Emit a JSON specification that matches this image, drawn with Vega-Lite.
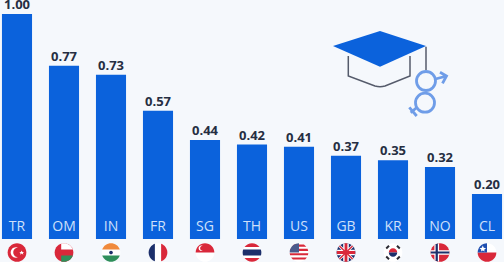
{"$schema":"https://vega.github.io/schema/vega-lite/v6.json","width":504,"height":262,"padding":0,"autosize":{"type":"none"},"background":"#f5f8fc","config":{"view":{"stroke":null}},
"resolve":{"scale":{"color":"independent","shape":"independent"}},
"layer":[
{"data":{"name":"bars","values":[{"code":"TR","value":1.00},{"code":"OM","value":0.77},{"code":"IN","value":0.73},{"code":"FR","value":0.57},{"code":"SG","value":0.44},{"code":"TH","value":0.42},{"code":"US","value":0.41},{"code":"GB","value":0.37},{"code":"KR","value":0.35},{"code":"NO","value":0.32},{"code":"CL","value":0.20}]},
"mark":{"type":"bar","color":"#0b62dc"},
"encoding":{"x":{"field":"code","type":"nominal","axis":null,"scale":{"domain":["TR","OM","IN","FR","SG","TH","US","GB","KR","NO","CL"],"range":[-6.5,510.5],"paddingInner":0.36,"paddingOuter":0.18}},"y":{"field":"value","type":"quantitative","axis":null,"scale":{"domain":[0,1],"range":[239,14],"nice":false,"zero":false}}}},
{"data":{"name":"bars"},
"mark":{"type":"text","baseline":"middle","dy":-9,"font":"Open Sans","fontWeight":"bold","fontSize":13,"color":"#262e42"},
"encoding":{"x":{"field":"code","type":"nominal","axis":null,"scale":{"domain":["TR","OM","IN","FR","SG","TH","US","GB","KR","NO","CL"],"range":[-6.5,510.5],"paddingInner":0.36,"paddingOuter":0.18}},"y":{"field":"value","type":"quantitative","axis":null,"scale":{"domain":[0,1],"range":[239,14],"nice":false,"zero":false}},"text":{"field":"value","type":"quantitative","format":".2f"}}},
{"data":{"name":"bars"},
"mark":{"type":"text","baseline":"middle","font":"Open Sans","fontSize":14,"color":"#cfe0fa"},
"encoding":{"x":{"field":"code","type":"nominal","axis":null,"scale":{"domain":["TR","OM","IN","FR","SG","TH","US","GB","KR","NO","CL"],"range":[-6.5,510.5],"paddingInner":0.36,"paddingOuter":0.18}},"y":{"datum":0.055,"type":"quantitative","axis":null,"scale":{"domain":[0,1],"range":[239,14],"nice":false,"zero":false}},"text":{"field":"code","type":"nominal"}}},
{"data":{"values":[
{"code":"TR","part":"disc","colour":"red"},{"code":"TR","part":"crescent","colour":"white"},{"code":"TR","part":"star","colour":"white"},
{"code":"OM","part":"disc","colour":"red"},{"code":"OM","part":"upper right","colour":"white"},{"code":"OM","part":"lower right","colour":"green"},
{"code":"IN","part":"disc","colour":"white"},{"code":"IN","part":"top band","colour":"orange"},{"code":"IN","part":"bottom band","colour":"green"},{"code":"IN","part":"dot","colour":"navy"},
{"code":"FR","part":"disc","colour":"white"},{"code":"FR","part":"left band","colour":"navy"},{"code":"FR","part":"right band","colour":"red"},
{"code":"SG","part":"disc","colour":"white"},{"code":"SG","part":"top half","colour":"red"},{"code":"SG","part":"moon","colour":"white"},
{"code":"TH","part":"disc","colour":"white"},{"code":"TH","part":"middle band","colour":"navy"},{"code":"TH","part":"top cap","colour":"red"},{"code":"TH","part":"bottom cap","colour":"red"},
{"code":"US","part":"disc","colour":"white"},{"code":"US","part":"stripes","colour":"red"},{"code":"US","part":"canton","colour":"slate"},
{"code":"GB","part":"disc","colour":"navy"},{"code":"GB","part":"saltire","colour":"white"},{"code":"GB","part":"cross","colour":"white"},{"code":"GB","part":"thin saltire","colour":"red"},{"code":"GB","part":"thin cross","colour":"red"},
{"code":"KR","part":"disc","colour":"white"},{"code":"KR","part":"trigrams","colour":"dark"},{"code":"KR","part":"taeguk top","colour":"red"},{"code":"KR","part":"taeguk bottom","colour":"navy"},
{"code":"NO","part":"disc","colour":"red"},{"code":"NO","part":"nordic cross","colour":"white"},{"code":"NO","part":"thin nordic cross","colour":"navy"},
{"code":"CL","part":"disc","colour":"white"},{"code":"CL","part":"bottom half","colour":"red"},{"code":"CL","part":"canton","colour":"blue"},{"code":"CL","part":"chile star","colour":"white"}
]},
"mark":{"type":"point","filled":true,"opacity":1,"size":350,"strokeWidth":0},
"encoding":{"x":{"field":"code","type":"nominal","axis":null,"scale":{"domain":["TR","OM","IN","FR","SG","TH","US","GB","KR","NO","CL"],"range":[-6.5,510.5],"paddingInner":0.36,"paddingOuter":0.18}},"y":{"datum":-0.06,"type":"quantitative","axis":null,"scale":{"domain":[0,1],"range":[239,14],"nice":false,"zero":false}},
"color":{"field":"colour","type":"nominal","legend":null,"scale":{"domain":["red","white","green","orange","navy","slate","blue","dark"],"range":["#d9283a","#ffffff","#2f8f5b","#f08a3c","#1c2f6b","#4a5a8c","#1f4fb0","#2a2a33"]}},
"shape":{"field":"part","type":"nominal","legend":null,"scale":{"domain":["disc","crescent","star","upper right","lower right","top band","bottom band","middle band","dot","left band","right band","top half","bottom half","moon","top cap","bottom cap","stripes","canton","saltire","cross","thin saltire","thin cross","trigrams","taeguk top","taeguk bottom","nordic cross","thin nordic cross","chile star"],
"range":["M-1 0A1 1 0 1 1 1 0A1 1 0 1 1 -1 0Z",
"M0.1 -0.5A0.55 0.55 0 1 0 0.1 0.5A0.42 0.42 0 1 1 0.1 -0.5Z",
"M0.5 -0.22L0.58 -0.06L0.76 -0.06L0.62 0.06L0.68 0.24L0.5 0.12L0.32 0.24L0.38 0.06L0.24 -0.06L0.42 -0.06Z",
"M-0.3 -0.33L0.943 -0.33A1 1 0 0 0 -0.3 -0.954Z",
"M-0.3 0.33L0.943 0.33A1 1 0 0 1 -0.3 0.954Z",
"M-0.943 -0.333A1 1 0 0 1 0.943 -0.333Z",
"M-0.943 0.333A1 1 0 0 0 0.943 0.333Z",
"M-0.943 -0.333L0.943 -0.333A1 1 0 0 1 0.943 0.333L-0.943 0.333A1 1 0 0 1 -0.943 -0.333Z",
"M-0.2 0A0.2 0.2 0 1 1 0.2 0A0.2 0.2 0 1 1 -0.2 0Z",
"M-0.333 -0.943A1 1 0 0 0 -0.333 0.943Z",
"M0.333 -0.943A1 1 0 0 1 0.333 0.943Z",
"M-1 0A1 1 0 0 1 1 0Z",
"M-1 0A1 1 0 0 0 1 0Z",
"M-0.25 -0.72A0.3 0.3 0 1 0 -0.25 -0.18A0.24 0.24 0 1 1 -0.25 -0.72Z",
"M-0.8 -0.6A1 1 0 0 1 0.8 -0.6Z",
"M-0.8 0.6A1 1 0 0 0 0.8 0.6Z",
"M-0.527 -0.85L0.527 -0.85L0.785 -0.62L-0.785 -0.62ZM-0.917 -0.4L0.917 -0.4L0.985 -0.17L-0.985 -0.17ZM-0.997 0.07L0.997 0.07L0.954 0.3L-0.954 0.3ZM-0.848 0.53L0.848 0.53L0.65 0.76L-0.65 0.76Z",
"M-1 0A1 1 0 0 1 0 -1L0 0Z",
"M-0.8 -0.6L-0.6 -0.8L0.8 0.6L0.6 0.8ZM0.6 -0.8L0.8 -0.6L-0.6 0.8L-0.8 0.6Z",
"M-0.3 -0.95L0.3 -0.95L0.3 -0.3L0.95 -0.3L0.95 0.3L0.3 0.3L0.3 0.95L-0.3 0.95L-0.3 0.3L-0.95 0.3L-0.95 -0.3L-0.3 -0.3Z",
"M-0.75 -0.65L-0.65 -0.75L0.75 0.65L0.65 0.75ZM0.65 -0.75L0.75 -0.65L-0.65 0.75L-0.75 0.65Z",
"M-0.15 -0.98L0.15 -0.98L0.15 -0.15L0.98 -0.15L0.98 0.15L0.15 0.15L0.15 0.98L-0.15 0.98L-0.15 0.15L-0.98 0.15L-0.98 -0.15L-0.15 -0.15Z",
"M-0.8 -0.5L-0.5 -0.8L-0.35 -0.65L-0.65 -0.35ZM0.5 -0.8L0.8 -0.5L0.65 -0.35L0.35 -0.65ZM0.8 0.5L0.5 0.8L0.35 0.65L0.65 0.35ZM-0.5 0.8L-0.8 0.5L-0.65 0.35L-0.35 0.65Z",
"M-0.45 0A0.45 0.45 0 0 1 0.45 0Z",
"M-0.45 0A0.45 0.45 0 0 0 0.45 0Z",
"M-0.6 -0.8L-0.1 -0.99L-0.1 -0.25L0.97 -0.25L0.97 0.25L-0.1 0.25L-0.1 0.99L-0.6 0.8L-0.6 0.25L-0.97 0.25L-0.97 -0.25L-0.6 -0.25Z",
"M-0.47 -0.88L-0.23 -0.97L-0.23 -0.1L0.99 -0.1L0.99 0.1L-0.23 0.1L-0.23 0.97L-0.47 0.88L-0.47 0.1L-0.99 0.1L-0.99 -0.1L-0.47 -0.1Z",
"M-0.45 -0.75L-0.35 -0.5L-0.1 -0.45L-0.3 -0.3L-0.25 -0.1L-0.45 -0.22L-0.65 -0.1L-0.6 -0.3L-0.8 -0.45L-0.55 -0.5Z"]}}}},
{"data":{"values":[{"item":"mortarboard"}]},
"mark":{"type":"point","filled":true,"opacity":1,"size":10000,"strokeWidth":0,"color":"#0b62dc","shape":"M-1.2 -0.56L-0.26 -0.86L0.66 -0.56L-0.26 -0.146Z"},
"encoding":{"x":{"datum":"KR","type":"nominal","axis":null,"scale":{"domain":["TR","OM","IN","FR","SG","TH","US","GB","KR","NO","CL"],"range":[-6.5,510.5],"paddingInner":0.36,"paddingOuter":0.18}},"y":{"datum":0.7333,"type":"quantitative","axis":null,"scale":{"domain":[0,1],"range":[239,14],"nice":false,"zero":false}}}},
{"data":{"values":[{"item":"cap body"}]},
"mark":{"type":"point","filled":false,"opacity":1,"size":10000,"strokeWidth":1.5,"color":"#555b6b","shape":"M-0.894 -0.36L-0.894 0.04L-0.36 0.24Q-0.26 0.27 -0.16 0.24L0.34 0.04L0.34 -0.36M0.66 -0.546L0.66 -0.08"},
"encoding":{"x":{"datum":"KR","type":"nominal","axis":null,"scale":{"domain":["TR","OM","IN","FR","SG","TH","US","GB","KR","NO","CL"],"range":[-6.5,510.5],"paddingInner":0.36,"paddingOuter":0.18}},"y":{"datum":0.7333,"type":"quantitative","axis":null,"scale":{"domain":[0,1],"range":[239,14],"nice":false,"zero":false}}}},
{"data":{"values":[{"item":"gender symbols"}]},
"mark":{"type":"point","filled":false,"opacity":1,"size":10000,"strokeWidth":2.8,"color":"#6f9de8","shape":"M0.47 0.14A0.19 0.19 0 1 1 0.85 0.14A0.19 0.19 0 1 1 0.47 0.14ZM0.85 0.1L1.07 0.04M0.94 -0.034L1.07 0.04L0.99 0.186M0.45 0.574A0.19 0.19 0 1 1 0.83 0.574A0.19 0.19 0 1 1 0.45 0.574ZM0.48 0.666L0.354 0.774M0.326 0.666L0.474 0.84"},
"encoding":{"x":{"datum":"KR","type":"nominal","axis":null,"scale":{"domain":["TR","OM","IN","FR","SG","TH","US","GB","KR","NO","CL"],"range":[-6.5,510.5],"paddingInner":0.36,"paddingOuter":0.18}},"y":{"datum":0.7333,"type":"quantitative","axis":null,"scale":{"domain":[0,1],"range":[239,14],"nice":false,"zero":false}}}}
]}
